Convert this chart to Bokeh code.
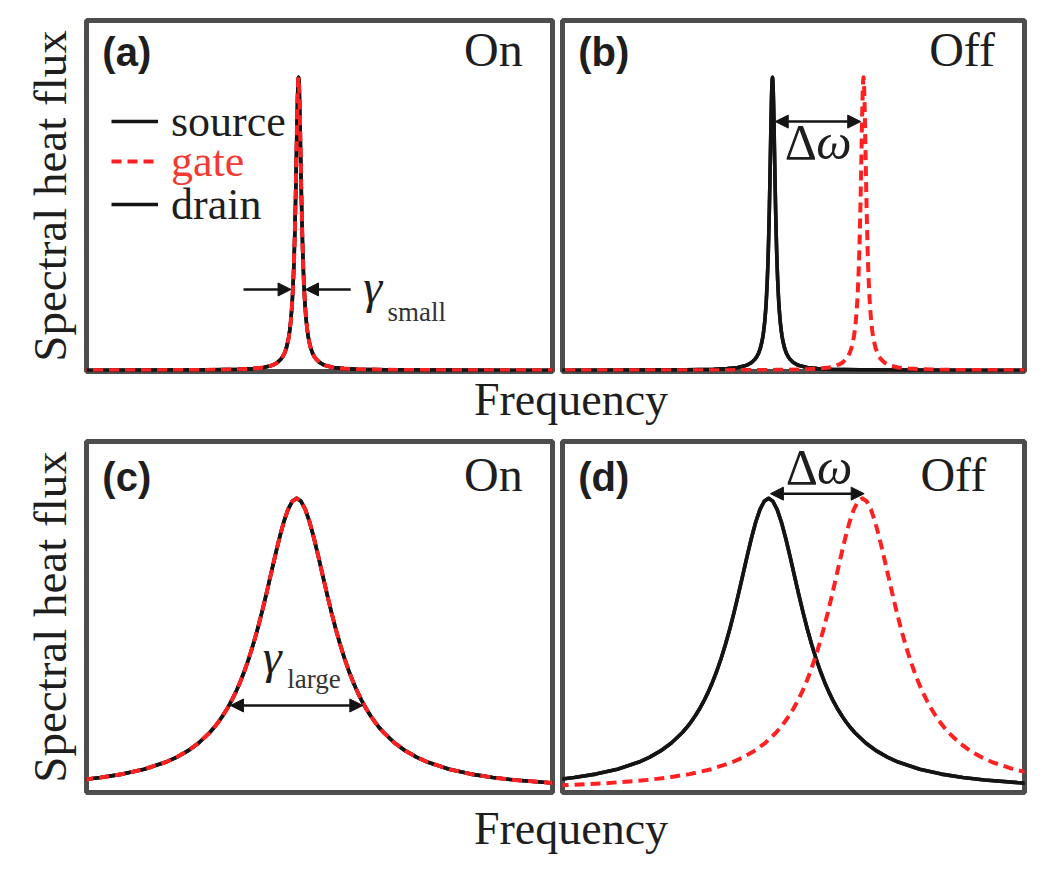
from bokeh.plotting import figure
from bokeh.models import (Range1d, Label, Arrow, NormalHead, Legend, LegendItem,
                          FixedTicker)
from bokeh.layouts import column, row
from bokeh.embed import file_html
from bokeh.resources import INLINE

# ---------------- data ----------------
# peak line shape (one half, symmetric): offset in half-widths -> relative height
profile_offset = [0.0, 0.1, 0.2, 0.3, 0.4, 0.5, 0.6, 0.7, 0.8, 0.9, 1.0, 1.1, 1.2,
                  1.3, 1.4, 1.5, 1.6, 1.7, 1.8, 1.9, 2.0, 2.25, 2.5, 2.75, 3.0, 3.5,
                  4.0, 4.5, 5.0, 6.0, 7.0, 8.0, 10.0, 13.0, 17.0, 25.0, 40.0, 60.0, 100.0]
profile_height = [1.0, 0.990, 0.9615, 0.9174, 0.8621, 0.8, 0.7353, 0.6711, 0.6098,
                  0.5525, 0.5, 0.4525, 0.4098, 0.3717, 0.3378, 0.3077, 0.2809, 0.2571,
                  0.2358, 0.2169, 0.2, 0.1649, 0.1379, 0.1168, 0.1, 0.0755, 0.0588,
                  0.0471, 0.0385, 0.0270, 0.0200, 0.0154, 0.0099, 0.0059, 0.0034,
                  0.0016, 0.0006, 0.0003, 0.0001]

panel_tags = ["(a)", "(b)", "(c)", "(d)"]
panel_states = ["On", "Off", "On", "Off"]
series_names = ["source", "gate", "drain"]
source_center = [0.455, 0.4545, 0.451, 0.446]
gate_center = [0.455, 0.6515, 0.451, 0.649]
drain_center = [0.455, 0.4545, 0.451, 0.446]
peak_width = [0.015, 0.015, 0.187, 0.187]
peak_height = [1.0, 1.0, 1.0, 1.0]
x_label = "Frequency"
y_label = "Spectral heat flux"

# ---------------- styles ----------------
SERIF = "Liberation Serif"
SANS = "Liberation Sans"
BLACK = "#141414"
RED = "#ff2121"
TXT = "#1e1e1e"
BORDER = "#4d4d4d"
LW = 3.6

full_u = [-u for u in reversed(profile_offset[1:])] + profile_offset
full_h = list(reversed(profile_height[1:])) + profile_height


def peak(center, width, height):
    xs = [center + u * width / 2.0 for u in full_u]
    ys = [height * h for h in full_h]
    return xs, ys


def make_panel(i, w, h, bl, br, bt, bb, with_ylabel):
    p = figure(width=w, height=h, x_range=Range1d(0, 1), y_range=Range1d(-0.004, 1.194),
               output_backend="svg", toolbar_location=None,
               min_border_left=bl, min_border_right=br, min_border_top=bt,
               min_border_bottom=bb)
    p.xaxis.visible = False
    p.grid.visible = False
    p.outline_line_color = BORDER
    p.outline_line_width = 5
    p.outline_line_alpha = 1.0
    p.background_fill_color = "white"
    p.border_fill_color = "white"
    if with_ylabel:
        ax = p.yaxis[0]
        ax.ticker = FixedTicker(ticks=[])
        ax.axis_line_color = None
        ax.major_tick_line_color = None
        ax.minor_tick_line_color = None
        ax.major_tick_out = 0
        ax.minor_tick_out = 0
        ax.major_label_text_font_size = "0px"
        ax.axis_label = y_label
        ax.axis_label_text_font = SERIF
        ax.axis_label_text_font_style = "normal"
        ax.axis_label_text_font_size = "47px"
        ax.axis_label_text_color = TXT
        ax.axis_label_standoff = 11
    else:
        p.yaxis.visible = False

    xs, ys = peak(source_center[i], peak_width[i], peak_height[i])
    r_src = p.line(xs, ys, line_color=BLACK, line_width=LW, line_join="round")
    xs, ys = peak(drain_center[i], peak_width[i], peak_height[i])
    r_drn = p.line(xs, ys, line_color=BLACK, line_width=LW, line_join="round")
    xs, ys = peak(gate_center[i], peak_width[i], peak_height[i])
    r_gate = p.line(xs, ys, line_color=RED, line_width=LW + 0.4, line_dash="10 6",
                    line_join="round")

    top = i < 2
    p.add_layout(Label(x=0.034, y=1.085 if top else 1.072, text=panel_tags[i],
                       text_font=SANS, text_font_style="bold", text_font_size="40px",
                       text_color=TXT, text_align="left", text_baseline="alphabetic"))
    p.add_layout(Label(x=0.936 if i != 3 else 0.917, y=1.094 if top else 1.081,
                       text=panel_states[i], text_font=SERIF, text_font_size="48px",
                       text_color=TXT, text_align="right", text_baseline="alphabetic"))
    return p, (r_src, r_gate, r_drn)


def head():
    return NormalHead(size=13, fill_color=BLACK, line_color=BLACK, line_width=1)


def gamma_label(p, x, y, xs, ys, sub):
    p.add_layout(Label(x=x, y=y, text="γ", text_font=SERIF, text_font_style="italic",
                       text_font_size="48px", text_color=TXT,
                       text_baseline="alphabetic"))
    p.add_layout(Label(x=xs, y=ys, text=sub, text_font=SERIF,
                       text_font_size="27px", text_color="#333333",
                       text_baseline="alphabetic"))


def delta_label(p, x, y):
    p.add_layout(Label(x=x, y=y, text="Δ", text_font=SERIF, text_font_size="50px",
                       text_color=TXT, text_baseline="alphabetic"))
    p.add_layout(Label(x=x + 0.068, y=y, text="ω", text_font=SERIF,
                       text_font_style="italic", text_font_size="50px",
                       text_color=TXT, text_baseline="alphabetic"))


# ---------------- panels ----------------
pa, ra = make_panel(0, 557, 374, 86, 5, 20, 3, True)
pb, rb = make_panel(1, 485, 374, 5, 18, 20, 3, False)
pc, rc = make_panel(2, 557, 364, 86, 5, 8, 5, True)
pd, rd = make_panel(3, 485, 364, 5, 18, 8, 5, False)

# legend in (a)
for k, (rend, name, col, vy) in enumerate(zip(ra, series_names,
                                              [BLACK, RED, BLACK], [220, 180, 137])):
    lg = Legend(items=[LegendItem(label=name, renderers=[rend])], location=(25, vy),
                label_text_font=SERIF, label_text_font_size="44px",
                label_text_color=TXT if k != 1 else "#f03a32",
                glyph_width=47, glyph_height=60, label_height=60, label_standoff=13,
                padding=0, margin=0, border_line_color=None, background_fill_alpha=0)
    pa.add_layout(lg)

# (a) gamma small
ca = source_center[0]
pa.add_layout(Arrow(end=head(), x_start=ca - 0.118, y_start=0.276, x_end=ca - 0.016,
                    y_end=0.276, line_color=BLACK, line_width=2.5))
pa.add_layout(Arrow(end=head(), x_start=ca + 0.112, y_start=0.276, x_end=ca + 0.015,
                    y_end=0.276, line_color=BLACK, line_width=2.5))
gamma_label(pa, 0.594, 0.287, 0.646, 0.200, "small")

# (b) delta omega
pb.add_layout(Arrow(start=head(), end=head(), x_start=source_center[1] + 0.006,
                    y_start=0.849, x_end=gate_center[1] - 0.006, y_end=0.849,
                    line_color=BLACK, line_width=2.5))
delta_label(pb, 0.481, 0.779)

# (c) gamma large
cc = source_center[2]
pc.add_layout(Arrow(start=head(), end=head(), x_start=cc - 0.142, y_start=0.293,
                    x_end=cc + 0.142, y_end=0.293, line_color=BLACK, line_width=2.5))
gamma_label(pc, 0.378, 0.460, 0.431, 0.384, "large")

# (d) delta omega
pd.add_layout(Arrow(start=head(), end=head(), x_start=source_center[3] + 0.004,
                    y_start=1.016, x_end=gate_center[3] + 0.004, y_end=1.016,
                    line_color=BLACK, line_width=2.5))
delta_label(pd, 0.483, 1.107)


def freq_fig(h, base):
    f = figure(width=1042, height=h, x_range=Range1d(0, 1042), y_range=Range1d(0, h),
               output_backend="svg", toolbar_location=None, min_border=0)
    f.axis.visible = False
    f.grid.visible = False
    f.outline_line_color = None
    f.add_layout(Label(x=570.5, y=base, text=x_label, text_font=SERIF,
                       text_font_size="46px", text_color=TXT, text_align="center",
                       text_baseline="alphabetic"))
    return f


f1 = freq_fig(59, 34)
f2 = freq_fig(63, 32)

layout = column(row(pa, pb), f1, row(pc, pd), f2)
open("out.html", "w").write(file_html(layout, INLINE))
